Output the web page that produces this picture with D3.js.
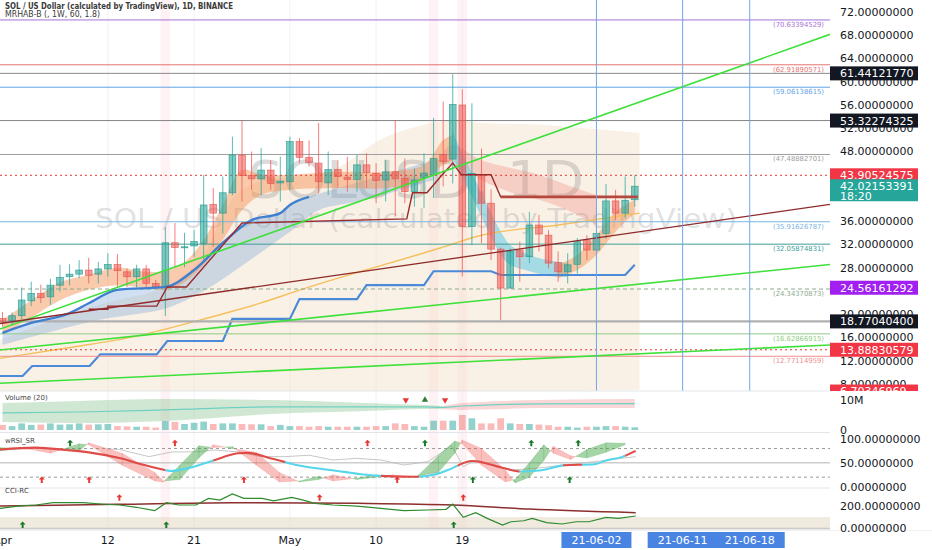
<!DOCTYPE html>
<html><head><meta charset="utf-8">
<script src="https://cdn.jsdelivr.net/npm/d3@7/dist/d3.min.js"></script>
<style>html,body{margin:0;padding:0;background:#fff;overflow:hidden}svg{display:block}text{font-family:"DejaVu Sans",sans-serif}</style>
</head><body>
<svg id="chart" width="932" height="550"></svg>
<script>
// ---------------- DATA (day index 0 = 2021-04-01) ----------------
const openP  = [19.3,18.9,19.75,22.3,23.6,23.0,25.0,26.45,26.9,27.6,26.9,27.8,28.55,27.3,26.45,27.8,25.3,24.7,32.3,31.5,31.75,32.2,38.9,37.4,40.9,47.4,43.85,43.3,44.8,42.6,42.8,49.7,47.0,46.0,42.6,44.9,43.6,43.2,45.7,44.25,43.1,44.5,43.4,41.1,43.5,44.0,47.5,46.7,56.0,35.1,44.0,39.1,31.2,24.5,31.05,29.9,35.35,33.6,28.9,27.3,28.6,32.8,31.05,33.9,39.5,37.4,39.7];
const highP  = [20.4,20.3,24.6,25.6,25.1,26.1,28.5,28.6,29.3,29.7,29.0,30.5,30.4,27.9,28.5,28.5,25.9,35.0,35.7,34.0,34.5,44.0,41.7,43.7,50.55,53.3,48.0,48.6,46.5,47.1,50.55,50.3,49.9,52.9,48.0,46.5,47.1,47.4,47.7,46.0,46.6,53.4,46.8,45.1,47.7,53.8,56.6,61.3,58.7,56.3,48.5,41.5,31.5,31.3,32.5,37.6,37.1,34.5,30.8,30.5,33.1,33.6,34.5,42.4,41.4,43.7,43.9];
const lowP   = [17.9,18.3,19.2,21.4,21.9,21.6,23.9,25.0,26.2,25.3,25.3,26.45,24.7,24.7,24.6,24.7,24.6,19.7,28.0,28.1,29.9,29.3,31.6,33.9,40.5,39.4,41.4,40.5,41.4,39.4,41.4,46.0,45.4,40.8,40.5,41.7,41.1,41.1,41.7,39.1,39.4,36.8,39.1,38.5,38.3,40.0,42.0,42.5,26.5,31.9,32.2,29.3,19.0,24.5,25.6,28.8,30.8,27.9,25.6,25.3,27.0,29.3,30.8,33.0,36.2,36.5,38.5];
const closeP = [18.7,19.75,22.45,23.6,22.85,25.0,26.35,26.9,27.6,26.7,27.8,28.55,27.5,26.45,27.8,25.3,24.7,32.3,31.5,31.6,32.5,38.8,37.4,40.9,47.4,43.85,43.3,44.8,42.5,42.9,49.7,47.0,46.1,42.8,44.9,43.7,43.2,45.7,44.4,43.0,44.5,43.3,41.1,43.1,44.3,46.8,46.3,56.1,35.1,44.25,39.1,31.2,24.5,30.8,29.9,35.35,33.8,28.8,27.3,28.5,32.5,31.05,33.9,39.5,37.4,39.6,42.02];
const volumeM = [1.7,1.3,2.2,1.7,1.8,2.2,1.8,1.9,2.2,1.8,1.9,2.0,1.3,1.2,1.1,1.1,0.8,3.0,2.7,2.0,2.4,2.8,2.0,2.2,2.2,2.0,1.9,1.9,1.3,1.7,1.3,1.3,1.1,1.3,1.1,1.1,1.1,1.1,1.1,1.3,1.3,2.2,2.0,1.3,1.1,3.1,3.1,3.1,5.0,3.9,2.2,2.2,3.9,2.2,2.0,2.0,1.8,1.6,1.1,1.1,0.8,1.1,1.1,1.3,1.3,1.1,0.9];

const priceTicks = [8,12,16,20,24,28,32,36,40,44,48,52,56,60,64,68,72];
const xTickDays = [0,11,20,30,39,48];
const xTickLabels = ["Apr","12","21","May","10","19"];
const markDays = [62,71,78];
const markLabels = ["21-06-02","21-06-11","21-06-18"];
const stripeDays = [17,45,48];

const fibLevels = [70.63394529,62.91890571,59.06138615,47.48882701,35.91626787,32.05874831,24.34370873,16.62866915,12.77114959];
const keyLevels = [61.44121770,53.32274325,43.90524575,18.77040400,13.88830579];
const badgeVals = [61.44121770,53.32274325,43.90524575,42.02153391,24.56161292,18.77040400,13.88830579,6.70346969];
const badgeKinds = ["line","line","alert","last","mark","line","alert","alert"];

// trend lines: [day, price] endpoints
const greenSteep = [[-0.26,17.46],[86.38,68.15]];
const greenMid   = [[-0.26,13.85],[86.38,28.56]];
const greenLow   = [[-0.26,8.12],[86.38,14.71]];
const maroonTrend= [[-0.26,18.41],[86.38,38.9]];

// overlays
const bbDays  = [-0.3,10,17,20.6,25,34.5,40,47,50,56,66.5];
const bbUpper = [15.6,21.6,24.7,29.3,41.4,44.8,50.5,53.4,52.9,52.6,51.2];
const bbLowDays = [-0.3,20,40,50,66.5];
const bbLower = [2,4,6,6.5,7];
const emaDays = [0,3,7,9,12,17,20,23,26,29,30,32];
const emaVals = [16.8,18.5,20.2,21.9,24.2,24.7,27.6,32.3,36.2,37.4,38.8,40.2];
const emaBandTopDays = [0,3,7,9,12,17,20,23,26,29,30,32,38,45];
const emaBandTop = [16.8,18.5,20.2,21.9,24.2,24.7,27.6,32.3,36.2,37.4,38.8,40.2,43.1,46.5];
const emaBandBotDays = [0,10,17,21,26,31,33,38,45];
const emaBandBot = [14.7,19.0,21.0,24.0,29.5,35.4,37.9,39.7,43.1];
const upRibDays = [0,3,6,9,12,15,17,19,21,23,25,27,30,35,40,44,46,47];
const upRibTop  = [19.0,22.4,25.5,26.8,28.0,27.3,27.5,29.0,32.8,38.8,44.8,44.0,44.0,44.5,44.5,45.7,50.0,50.8];
const upRibBot  = [16.4,19.4,22.4,24.2,25.0,24.5,24.2,25.5,28.5,32.8,37.9,40.5,41.4,41.7,41.7,43.1,45.7,46.5];
const dnRibDays = [47,48,49,50,51,52,53,55,57,59];
const dnRibTop  = [51.3,47.7,44.3,40.9,37.4,34.3,31.9,30.2,29.3,28.8];
const dnRibBot  = [47.2,43.6,40.2,36.7,33.3,30.2,28.5,27.4,26.6,26.4];
const pinkDays = [46,47,50,53,56,59,62];
const pinkTop  = [48.0,49.1,46.5,45.2,44.0,42.2,40.5];
const pinkBot  = [45.5,46.5,43.1,41.0,39.7,37.9,35.4];
const up2Days = [58,60,62,64,66];
const up2Top  = [28.5,30.2,33.6,37.6,39.7];
const up2Bot  = [26.2,27.6,30.2,34.2,37.4];
const maDays = [-0.26,6.7,13.6,20.6,26.9,31.1,45.7,49.8,58.2,66.5];
const maVals = [12.4,14.2,16.1,19.0,21.9,24.2,31.4,33.5,35.4,37.4];
const stepPts = [[-0.3,9.38],[2.1,9.38],[3.1,11.1],[9.1,11.1],[10.2,13.1],[16.1,13.1],[17.2,15.4],[23,15.4],[24,19.2],[30,19.2],[31,22.6],[37,22.6],[38,25.0],[44,25.0],[45,27.4],[51,27.4],[52,26.75],[65,26.75],[66,28.5]];
const stopPts = [[9.0,20.85],[11,20.85],[11,21.4],[16.1,21.4],[17.2,24.7],[19.2,24.7],[25,35.7],[42.2,36.4],[42.8,40.9],[44.3,40.9],[45.7,43.6],[47,46.0],[47.9,44.0],[51,44.0],[52,40.2],[66.3,40.2]];

// volume pane
const volBandDays = [0,8,17,28,38,44,46,48,56,66];
const volUpper = [9.0,9.7,10.3,10.0,9.0,8.3,8.0,9.0,10.0,10.3];
const volLower = [2.7,2.3,3.0,5.3,6.3,7.0,6.9,6.7,7.3,7.3];
const volMid   = [5.7,6.0,6.7,7.7,7.7,7.7,7.5,8.0,8.7,8.8];
const volSell = [42.1,46.2];
const volBuy  = [44.1];

// wRSI_SR pane
const rsiMaDays = [-0.3,3.5,6.6,9,12.2,14.5,16.5,17.5,19.6,22,24.6,25.5,28.3,30.8,33,35.7,38,41.9,43.2,45,46.5,49,52.5,54,56,58.7,61.8,63,64.6,66.1];
const rsiMaVals = [78,82,77,72,60,47,37,33,40,55,70,71,58,45,38,31,25,21,21,25,35,54,38,32,34,45,47,55,62,75];
const rsiMaStates = [[-1,17,"bear"],[17,22,"bull"],[22,29.5,"bear"],[29.5,39.5,"bull"],[39.5,43.5,"bear"],[43.5,47.5,"bull"],[47.5,54,"bear"],[54,58.5,"bull"],[58.5,60.5,"bear"],[60.5,65,"bull"],[65,67,"bear"]];
const ribDays = [-0.3,3,5,8,9,12.5,15.9,16.8,18.5,20.5,22,24,26.5,28.9,31,33,34.5,37,39,40.7,43.2,45.5,47.2,48,50,52.5,53.5,55,56.5,57.5,59.3,61,63,65];
const ribFast = [82,78,70,90,88,45,12,10,45,86,82,84,45,10,12,22,12,18,25,22,20,65,96,90,45,10,15,50,88,70,57,78,92,91];
const ribSlow = [75,82,78,75,92,70,30,12,15,60,88,80,72,30,10,15,25,15,20,25,22,30,70,98,80,35,8,20,55,85,65,60,72,88];
const rawRsiDays = [10.9,12.2,15.3,17.7,20.2,22.1,24.6,27,29.5,32,34.5,37,39.5,41.9,44.4,46.9,48.1,49.4,51.2,53.1,55.6,58.7,61.8,66.1];
const rawRsiVals = [79,78,63,73,73,77,73,63,63,66,56,59.5,56,45.5,52.5,86,42,56,45.5,35,38.5,45.5,52.5,63];
const rsiSellTop = [18,38.1], rsiBuyTop = [7.06,44.1,55.2,60.1];
const rsiSellBot = [4.1,9.05,25.2,41.2], rsiBuyBot = [49.1,59.2];

// CCI-RC pane
const cciDays = [-0.26,1.6,3.5,5.3,8.4,10.3,12.2,14,15.9,17.1,18.4,20.2,21.5,22.7,24,25.2,27.1,28.3,30.2,31.4,32.6,34.5,37,39.5,41.9,44.4,46.3,47.0,48.1,49.4,50.6,52.2,53.1,54.4,55.3,56.8,58.4,59.9,61.2,63,64.3,66.1];
const cciVals = [177,197,206,227,227,215,206,186,156,227,206,206,265,250,304,265,265,242,274,250,221,206,197,177,156,162,168,215,97,139,88,29,58,67,88,50,38,58,58,97,88,109];
const cciSlowDays = [-0.26,12,24,37,47,55,66.1];
const cciSlowVals = [197,212,227,221,206,170,138];
const cciSell = [12.2,33.1,48.1], cciBuy = [2.1,17.1,47.1];

// ---------------- SCALES ----------------
const svg = d3.select("#chart");
const x = d3.scaleLinear().domain([-0.26,86.38]).range([0,830]);
const y = d3.scaleLinear().domain([8,72]).range([384,12]);
const yVol = d3.scaleLinear().domain([0,10]).range([430,400]);
const yRsi = d3.scaleLinear().domain([0,100]).range([486.7,439]);
const yCci = d3.scaleLinear().domain([0,200]).range([528.3,505.7]);
const step = x(1)-x(0);

const defs = svg.append("defs");
function clip(id,x0,y0,w,h){defs.append("clipPath").attr("id",id).append("rect").attr("x",x0).attr("y",y0).attr("width",w).attr("height",h);}
clip("cMain",0,0,830,391); clip("cVol",0,391.5,830,41); clip("cRsi",0,433,830,55); clip("cCci",0,488.5,830,41.5);

svg.append("rect").attr("width",932).attr("height",550).attr("fill","#ffffff");

function bandPath(sc,dT,vT,dB,vB,curve){
  const ln = d3.line().curve(curve||d3.curveCatmullRom);
  const top = ln(dT.map((d,i)=>[x(d),sc(vT[i])]));
  const bot = ln(dB.map((d,i)=>[x(d),sc(vB[i])]).reverse());
  return top+"L"+bot.slice(1)+"Z";
}
const lineXY = (sc,curve)=>d3.line().x(p=>x(p[0])).y(p=>sc(p[1])).curve(curve||d3.curveLinear);

// stripes & grid
svg.append("g").selectAll("rect").data(stripeDays).join("rect")
  .attr("x",d=>x(d)-step/2).attr("width",step).attr("y",0).attr("height",530).attr("fill","rgba(255,190,200,0.2)");
svg.append("g").selectAll("line").data(xTickDays.slice(1)).join("line")
  .attr("x1",d=>x(d)).attr("x2",d=>x(d)).attr("y1",0).attr("y2",530).attr("stroke","#f0f1f5").attr("stroke-width",1);

// ---------------- MAIN PANE ----------------
const main = svg.append("g").attr("clip-path","url(#cMain)");
main.append("path").attr("d",bandPath(y,bbDays,bbUpper,bbLowDays,bbLower)).attr("fill","rgba(240,215,185,0.36)");

// watermark
main.append("text").attr("x",416).attr("y",198).attr("text-anchor","middle").attr("font-size",52)
  .attr("textLength",336).attr("lengthAdjust","spacingAndGlyphs").attr("fill","rgba(125,125,125,0.28)").text("SOLUSD, 1D");
main.append("text").attr("x",416).attr("y",228).attr("text-anchor","middle").attr("font-size",27)
  .attr("textLength",642).attr("lengthAdjust","spacingAndGlyphs").attr("fill","rgba(125,125,125,0.24)").text("SOL / US Dollar (calculated by TradingView)");

main.append("path").attr("d",bandPath(y,emaBandTopDays,emaBandTop,emaBandBotDays,emaBandBot)).attr("fill","rgba(110,160,215,0.32)");
main.append("path").attr("d",bandPath(y,upRibDays,upRibTop,upRibDays,upRibBot)).attr("fill","rgba(244,150,90,0.5)");
main.append("path").attr("d",bandPath(y,pinkDays,pinkTop,pinkDays,pinkBot)).attr("fill","rgba(240,125,115,0.3)");
main.append("path").attr("d",bandPath(y,dnRibDays,dnRibTop,dnRibDays,dnRibBot)).attr("fill","rgba(95,200,225,0.55)");
main.append("path").attr("d",bandPath(y,up2Days,up2Top,up2Days,up2Bot)).attr("fill","rgba(244,150,90,0.5)");

// MA (yellow-orange)
main.append("path").attr("d",lineXY(y,d3.curveMonotoneX)(maDays.map((d,i)=>[d,maVals[i]])))
  .attr("fill","none").attr("stroke","#f5bf5a").attr("stroke-width",1.4);
// blue weekly step
main.append("path").attr("d",lineXY(y)(stepPts)).attr("fill","none").attr("stroke","#4a8ad8").attr("stroke-width",2.2);

// horizontal levels
const fibStroke = ["#a873d6","#e57373","#5fa3e6","#9e9e9e","#7db5e6","#3f9d96","#8caa8c","#8fcc85","#ef8d8d"];
const fibDash = [null,null,null,null,null,null,"4,3",null,null];
main.append("g").selectAll("line").data(fibLevels).join("line")
  .attr("x1",0).attr("x2",830).attr("y1",d=>y(d)).attr("y2",d=>y(d))
  .attr("stroke",(d,i)=>fibStroke[i]).attr("stroke-width",1).attr("stroke-dasharray",(d,i)=>fibDash[i]);
const keyStroke = ["#8a8a8a","#858585","#e53935","#b0b0b0","#e53935"];
const keyWidth = [1,1,1,2.2,1];
const keyDash = [null,null,"2,3",null,"2,3"];
main.append("g").selectAll("line").data(keyLevels).join("line")
  .attr("x1",0).attr("x2",830).attr("y1",d=>y(d)).attr("y2",d=>y(d))
  .attr("stroke",(d,i)=>keyStroke[i]).attr("stroke-width",(d,i)=>keyWidth[i]).attr("stroke-dasharray",(d,i)=>keyDash[i]);

// candles
const cg = main.append("g");
const candles = openP.map((o,i)=>({i,o,h:highP[i],l:lowP[i],c:closeP[i]}));
const bw = step*0.7;
cg.selectAll("line").data(candles).join("line")
  .attr("x1",d=>x(d.i)).attr("x2",d=>x(d.i)).attr("y1",d=>y(d.h)).attr("y2",d=>y(d.l))
  .attr("stroke",d=>d.c>=d.o?"rgba(38,166,154,0.75)":"rgba(239,83,80,0.75)").attr("stroke-width",1);
cg.selectAll("rect").data(candles).join("rect")
  .attr("x",d=>x(d.i)-bw/2).attr("width",bw).attr("y",d=>y(Math.max(d.o,d.c)))
  .attr("height",d=>Math.max(1,Math.abs(y(d.o)-y(d.c))))
  .attr("fill",d=>d.c>=d.o?"rgba(38,166,154,0.58)":"rgba(239,83,80,0.55)")
  .attr("stroke",d=>d.c>=d.o?"rgba(38,150,140,0.85)":"rgba(225,80,75,0.8)").attr("stroke-width",0.7);

// EMA thick blue, stop line
main.append("path").attr("d",lineXY(y,d3.curveMonotoneX)(emaDays.map((d,i)=>[d,emaVals[i]])))
  .attr("fill","none").attr("stroke","#3f7fd0").attr("stroke-width",2.4);
main.append("path").attr("d",lineXY(y)(stopPts)).attr("fill","none").attr("stroke","#9b2a2a").attr("stroke-width",1.4);
main.append("path").attr("d",lineXY(y)(stopPts.slice(-2))).attr("fill","none").attr("stroke","#b4483e").attr("stroke-width",2.6);

// trend lines
[[greenSteep,"#3ee03a",1.6],[greenMid,"#3ee03a",1.6],[greenLow,"#3ee03a",1.6],[maroonTrend,"#8e2a2a",1.3]].forEach(t=>{
  main.append("path").attr("d",lineXY(y)(t[0])).attr("fill","none").attr("stroke",t[1]).attr("stroke-width",t[2]);
});

// vertical marker lines
main.append("g").selectAll("line").data(markDays).join("line")
  .attr("x1",d=>x(d)).attr("x2",d=>x(d)).attr("y1",0).attr("y2",391).attr("stroke","#6ea4ec").attr("stroke-width",1);

// fib labels
main.append("g").selectAll("text").data(fibLevels).join("text")
  .attr("x",824).attr("y",d=>y(d)+7).attr("text-anchor","end").attr("font-size",7)
  .attr("textLength",51).attr("lengthAdjust","spacingAndGlyphs")
  .attr("fill",(d,i)=>fibStroke[i]).text(d=>"("+d.toFixed(8)+")");

// ---------------- VOLUME PANE ----------------
const vol = svg.append("g").attr("clip-path","url(#cVol)");
function sub(arrD,arr,lo,hi){const r=[[],[]];arrD.forEach((d,i)=>{if(d>=lo&&d<=hi){r[0].push(d);r[1].push(arr[i]);}});return r;}
const gU=sub(volBandDays,volUpper,0,46), gL=sub(volBandDays,volLower,0,46);
const pU=sub(volBandDays,volUpper,46,66), pL=sub(volBandDays,volLower,46,66);
vol.append("path").attr("d",bandPath(yVol,gU[0],gU[1],gL[0],gL[1],d3.curveMonotoneX)).attr("fill","rgba(120,190,130,0.35)");
vol.append("path").attr("d",bandPath(yVol,pU[0],pU[1],pL[0],pL[1],d3.curveMonotoneX)).attr("fill","rgba(240,140,140,0.35)");
vol.append("path").attr("d",lineXY(yVol,d3.curveMonotoneX)(volBandDays.map((d,i)=>[d,volMid[i]])))
  .attr("fill","none").attr("stroke","#6fd0c2").attr("stroke-width",1.2);
vol.selectAll("rect.v").data(volumeM).join("rect").attr("class","v")
  .attr("x",(d,i)=>x(i)-bw/2).attr("width",bw).attr("y",d=>yVol(d)).attr("height",d=>yVol(0)-yVol(d))
  .attr("fill",(d,i)=>closeP[i]>=openP[i]?"rgba(38,166,154,0.5)":"rgba(239,83,80,0.4)");
const tri = d3.symbol().type(d3.symbolTriangle).size(18);
vol.selectAll("path.s").data(volSell).join("path").attr("class","s").attr("d",tri)
  .attr("transform",d=>`translate(${x(d)},${yVol(10)}) rotate(180)`).attr("fill","#e53935");
vol.selectAll("path.b").data(volBuy).join("path").attr("class","b").attr("d",tri)
  .attr("transform",d=>`translate(${x(d)},${yVol(10)})`).attr("fill","#2e7d32");

// ---------------- RSI PANE ----------------
const rsi = svg.append("g").attr("clip-path","url(#cRsi)");
[[80,"3,3","#9a9a9a"],[20,"3,3","#9a9a9a"],[50,null,"#b5b5b5"]].forEach(l=>{
  rsi.append("line").attr("x1",0).attr("x2",830).attr("y1",yRsi(l[0])).attr("y2",yRsi(l[0]))
    .attr("stroke",l[2]).attr("stroke-width",1).attr("stroke-dasharray",l[1]);
});
rsi.append("path").attr("d",lineXY(yRsi)(rawRsiDays.map((d,i)=>[d,rawRsiVals[i]])))
  .attr("fill","none").attr("stroke","#b9b9b9").attr("stroke-width",0.8);
function poly(pts,fill){rsi.append("path").attr("d",d3.line()(pts.map(p=>[x(p[0]),yRsi(p[1])]))+"Z").attr("fill",fill).attr("stroke",fill).attr("stroke-width",0.4);}
const UPF="rgba(76,170,80,0.5)", DNF="rgba(239,90,85,0.38)";
for(let i=0;i<ribDays.length-1;i++){
  const x0=ribDays[i],x1=ribDays[i+1],a0=ribFast[i],a1=ribFast[i+1],b0=ribSlow[i],b1=ribSlow[i+1];
  const d0=a0-b0,d1=a1-b1;
  if(d0*d1<0){const t=d0/(d0-d1),xm=x0+t*(x1-x0),vm=a0+t*(a1-a0);
    poly([[x0,a0],[xm,vm],[x0,b0]],d0>0?UPF:DNF); poly([[xm,vm],[x1,a1],[x1,b1]],d1>0?UPF:DNF);}
  else poly([[x0,a0],[x1,a1],[x1,b1],[x0,b0]],(d0+d1)>=0?UPF:DNF);
}
const maPath = lineXY(yRsi,d3.curveMonotoneX)(rsiMaDays.map((d,i)=>[d,rsiMaVals[i]]));
rsiMaStates.forEach((s,k)=>{
  defs.append("clipPath").attr("id","rs"+k).append("rect").attr("x",x(s[0])).attr("width",x(s[1])-x(s[0])).attr("y",433).attr("height",55);
  rsi.append("g").attr("clip-path",`url(#rs${k})`).append("path").attr("d",maPath).attr("fill","none")
    .attr("stroke",s[2]==="bull"?"#55d6ea":"#e04b48").attr("stroke-width",2.1);
});
const arrow = "M0,-3.5 L3,-0.5 L1,-0.5 L1,3 L-1,3 L-1,-0.5 L-3,-0.5 Z";
function marks(g,days,lvl,sc,fill){g.append("g").selectAll("path").data(days).join("path").attr("d",arrow)
  .attr("transform",d=>`translate(${x(d)},${sc(lvl)})`).attr("fill",fill);}
marks(rsi,rsiSellTop,91,yRsi,"#e53935"); marks(rsi,rsiBuyTop,91,yRsi,"#1b7a2a");
marks(rsi,rsiSellBot,14,yRsi,"#e53935"); marks(rsi,rsiBuyBot,14,yRsi,"#1b7a2a");

// ---------------- CCI PANE ----------------
const cci = svg.append("g").attr("clip-path","url(#cCci)");
cci.append("rect").attr("x",0).attr("width",830).attr("y",yCci(100)).attr("height",yCci(-100)-yCci(100)).attr("fill","rgba(228,214,192,0.5)");
cci.append("line").attr("x1",0).attr("x2",830).attr("y1",yCci(0)).attr("y2",yCci(0)).attr("stroke","#c4c4c4");
cci.append("path").attr("d",lineXY(yCci,d3.curveMonotoneX)(cciSlowDays.map((d,i)=>[d,cciSlowVals[i]])))
  .attr("fill","none").attr("stroke","#8b2f2f").attr("stroke-width",1.5);
cci.append("path").attr("d",lineXY(yCci)(cciDays.map((d,i)=>[d,cciVals[i]])))
  .attr("fill","none").attr("stroke","#2e8b2e").attr("stroke-width",1.2);
marks(cci,cciSell,270,yCci,"#e53935"); marks(cci,cciBuy,29,yCci,"#1b7a2a");

// separators
[391,432.5,488,530].forEach(v=>svg.append("line").attr("x1",0).attr("x2",932).attr("y1",v).attr("y2",v).attr("stroke","#e3e5ea").attr("stroke-width",1));

// pane labels
svg.append("text").attr("x",5).attr("y",400).attr("font-size",7).attr("fill","#444").text("Volume (20)");
svg.append("text").attr("x",5).attr("y",443).attr("font-size",7).attr("fill","#444").text("wRSI_SR");
svg.append("text").attr("x",5).attr("y",493).attr("font-size",7).attr("fill","#444").text("CCI-RC");

// ---------------- RIGHT AXIS ----------------
const ax = svg.append("g");
ax.append("rect").attr("x",830).attr("y",0).attr("width",102).attr("height",530).attr("fill","#fff");
defs.append("clipPath").attr("id","cAx").append("rect").attr("x",830).attr("y",0).attr("width",102).attr("height",391);
const axMain = ax.append("g").attr("clip-path","url(#cAx)");
const badgeBox = badgeVals.map((v,i)=>{const cy=y(v),h=badgeKinds[i]==="last"?22:14;return [cy-7,cy-7+h];});
const visibleTicks = priceTicks.filter(t=>!badgeBox.some(b=>y(t)>b[0]+2&&y(t)<b[1]-2));
axMain.selectAll("text").data(visibleTicks).join("text").attr("x",840).attr("y",d=>y(d)).attr("dy","0.36em")
  .attr("font-size",11).attr("fill","#131722").text(d=>d.toFixed(8));
const badgeFill = {line:"#131722",alert:"#f23645",last:"#26a69a",mark:"#a11ff0"};
badgeVals.forEach((v,i)=>{
  const k = badgeKinds[i], cy=y(v);
  const h = k==="last"?22:14, top = cy-7;
  axMain.append("rect").attr("x",830).attr("y",top).attr("width",88).attr("height",h).attr("fill",badgeFill[k]);
  axMain.append("text").attr("x",840).attr("y",cy).attr("dy","0.36em").attr("font-size",11).attr("fill","#fff").text(v.toFixed(8));
  if(k==="last") axMain.append("text").attr("x",840).attr("y",cy+10).attr("dy","0.36em").attr("font-size",11).attr("fill","#fff").text("18:20");
});
ax.append("text").attr("x",840).attr("y",yVol(10)).attr("dy","0.36em").attr("font-size",11).attr("fill","#131722").text("10M");
ax.append("text").attr("x",840).attr("y",yVol(0)).attr("dy","0.36em").attr("font-size",11).attr("fill","#131722").text("0");
[100,50,0].forEach(v=>ax.append("text").attr("x",840).attr("y",yRsi(v)).attr("dy","0.36em").attr("font-size",11).attr("fill","#131722").text(v.toFixed(8)));
[200,0].forEach(v=>ax.append("text").attr("x",840).attr("y",yCci(v)).attr("dy","0.36em").attr("font-size",11).attr("fill","#131722").text(v.toFixed(8)));

// ---------------- X AXIS ----------------
const xa = svg.append("g");
xa.selectAll("text").data(xTickDays).join("text").attr("x",d=>x(d)).attr("y",544).attr("text-anchor","middle")
  .attr("font-size",11).attr("fill","#131722").text((d,i)=>xTickLabels[i]);
xa.append("rect").attr("x",x(markDays[0])-35).attr("y",532).attr("width",70).attr("height",16).attr("fill","#4a84e2");
xa.append("rect").attr("x",x(markDays[1])-35).attr("y",532).attr("width",x(markDays[2])-x(markDays[1])+70).attr("height",16).attr("fill","#4a84e2");
xa.selectAll("text.m").data(markDays).join("text").attr("class","m").attr("x",d=>x(d)).attr("y",544).attr("text-anchor","middle")
  .attr("font-size",11).attr("fill","#fff").text((d,i)=>markLabels[i]);

// header
svg.append("text").attr("x",5).attr("y",9).attr("font-size",8).attr("font-weight","bold").attr("fill","#3a3a3a")
  .attr("textLength",228).attr("lengthAdjust","spacingAndGlyphs").text("SOL / US Dollar (calculated by TradingView), 1D, BINANCE");
svg.append("text").attr("x",5).attr("y",17).attr("font-size",8).attr("fill","#3a3a3a")
  .attr("textLength",95).attr("lengthAdjust","spacingAndGlyphs").text("MRHAB-B (, 1W, 60, 1.8)");
</script>
</body></html>
